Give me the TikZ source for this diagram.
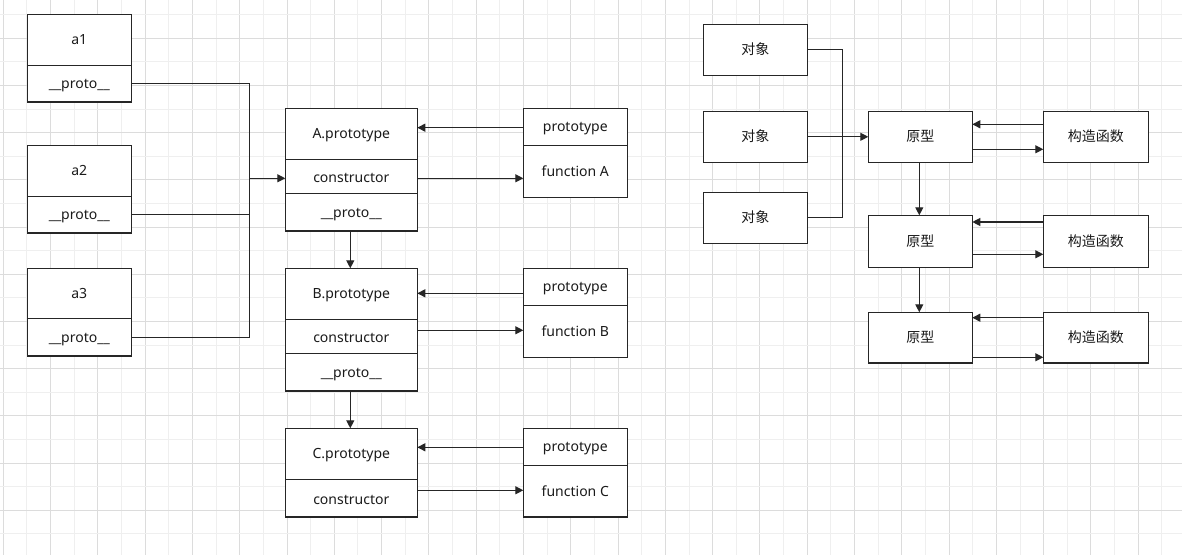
\documentclass[tikz,border=0pt]{standalone}
\usepackage{fontspec}
\setmainfont{Noto Sans}
\newfontfamily\cjk{Noto Sans CJK SC}
\usetikzlibrary{arrows.meta}
\definecolor{gridmajor}{HTML}{DCDCDC}
\definecolor{gridminor}{HTML}{EFEFEF}
\definecolor{linec}{HTML}{262626}
\definecolor{textc}{HTML}{1A1A1A}
\tikzset{
  cell/.style={draw=linec, fill=white, line width=0.9pt, inner sep=0pt, outer sep=0pt,
    font=\fontsize{10.5pt}{12pt}\selectfont, text=textc, text height=0.75em, text depth=0pt},
  ctor/.style={text height=0.95em},
  conn/.style={draw=linec, line width=0.9pt},
  arr/.style={conn, -{Triangle[length=6pt,width=6pt]}},
}
\newcommand\mkcell[7][]{\node[cell, #1, minimum width={(#5-#3)*0.75pt}, minimum height={(#6-#4)*0.75pt}] (#2) at ({(#3+#5)/2},{(#4+#6)/2}) {#7};}
\begin{document}
\begin{tikzpicture}[x=0.75pt,y=-0.75pt]
\useasboundingbox (0,0) rectangle (1182,555);
\fill[white] (0,0) rectangle (1182,555);
% grid
\foreach \k in {0,...,50}{
  \pgfmathsetmacro\gx{3.3+23.645*\k}
  \ifodd\k
    \draw[gridminor, line width=0.75pt] (\gx,0) -- (\gx,555);
  \else
    \draw[gridmajor, line width=0.75pt] (\gx,0) -- (\gx,555);
  \fi
}
\foreach \k in {0,...,23}{
  \pgfmathsetmacro\gy{14.7+23.6*\k}
  \ifodd\k
    \draw[gridmajor, line width=0.75pt] (0,\gy) -- (1182,\gy);
  \else
    \draw[gridminor, line width=0.75pt] (0,\gy) -- (1182,\gy);
  \fi
}
% left objects
\mkcell{a1t}{27.3}{14.3}{131.3}{65.3}{a1}
\mkcell{a1p}{27.3}{65.3}{131.3}{102}{\_\_proto\_\_}
\mkcell{a2t}{27.3}{145.3}{131.3}{196.3}{a2}
\mkcell{a2p}{27.3}{196.3}{131.3}{233}{\_\_proto\_\_}
\mkcell{a3t}{27.3}{268.3}{131.3}{318.3}{a3}
\mkcell{a3p}{27.3}{318.3}{131.3}{356}{\_\_proto\_\_}
% prototypes
\mkcell{Ap}{285.3}{108.3}{417.3}{159.3}{A.prototype}
\mkcell[ctor]{Ac}{285.3}{159.3}{417.3}{193.3}{constructor}
\mkcell{Apr}{285.3}{193.3}{417.3}{231}{\_\_proto\_\_}
\mkcell{Bp}{285.3}{268.3}{417.3}{319.3}{B.prototype}
\mkcell[ctor]{Bc}{285.3}{319.3}{417.3}{353.3}{constructor}
\mkcell{Bpr}{285.3}{353.3}{417.3}{391}{\_\_proto\_\_}
\mkcell{Cp}{285.3}{428.3}{417.3}{479.3}{C.prototype}
\mkcell[ctor]{Cc}{285.3}{479.3}{417.3}{517}{constructor}
% functions
\mkcell{fAp}{523.3}{108.3}{627.3}{145.3}{prototype}
\mkcell{fAf}{523.3}{145.3}{627.3}{197.3}{function A}
\mkcell{fBp}{523.3}{268.3}{627.3}{305.3}{prototype}
\mkcell{fBf}{523.3}{305.3}{627.3}{357.3}{function B}
\mkcell{fCp}{523.3}{428.3}{627.3}{465.3}{prototype}
\mkcell{fCf}{523.3}{465.3}{627.3}{517}{function C}
% right diagram
\mkcell{o1}{703.3}{24.3}{807.3}{75.3}{\cjk 对象}
\mkcell{o2}{703.3}{111.3}{807.3}{162.3}{\cjk 对象}
\mkcell{o3}{703.3}{192.3}{807.3}{243.3}{\cjk 对象}
\mkcell{p1}{868.3}{111.3}{972.3}{162.3}{\cjk 原型}
\mkcell{p2}{868.3}{215.3}{972.3}{267.3}{\cjk 原型}
\mkcell{p3}{868.3}{312.3}{972.3}{363}{\cjk 原型}
\mkcell{k1}{1043.3}{111.3}{1148.3}{162.3}{\cjk 构造函数}
\mkcell{k2}{1043.3}{215.3}{1148.3}{267.3}{\cjk 构造函数}
\mkcell{k3}{1043.3}{312.3}{1148.3}{363}{\cjk 构造函数}
% helper levels
\coordinate (ja) at (249.3,178.3);
\coordinate (yA1) at (0,127.7);
\coordinate (yA2) at (0,178.3);
\coordinate (yB1) at (0,293.3);
\coordinate (yB2) at (0,330.3);
\coordinate (yC1) at (0,447.3);
\coordinate (yC2) at (0,490.3);
\coordinate (jo) at (842.3,136.8);
\coordinate (yP1a) at (0,124.3);
\coordinate (yP1b) at (0,149.3);
\coordinate (yP2a) at (0,222);
\coordinate (yP2b) at (0,254.3);
\coordinate (yP3a) at (0,317.7);
\coordinate (yP3b) at (0,357.3);
% left connectors
\draw[conn] (a1p.east) -| (ja);
\draw[conn] (a3p.east) -| (ja);
\draw[conn] (a2p.east) -| (ja);
\draw[arr] (ja) -- (ja -| Ac.west);
\draw[arr] (fAp.west |- yA1) -- (Ap.east |- yA1);
\draw[arr] (Ac.east |- yA2) -- (fAf.west |- yA2);
\draw[arr] (fBp.west |- yB1) -- (Bp.east |- yB1);
\draw[arr] (Bc.east |- yB2) -- (fBf.west |- yB2);
\draw[arr] (fCp.west |- yC1) -- (Cp.east |- yC1);
\draw[arr] (Cc.east |- yC2) -- (fCf.west |- yC2);
\draw[arr] ([xshift=-0.75pt]Apr.south) -- ([xshift=-0.75pt]Bp.north);
\draw[arr] ([xshift=-0.75pt]Bpr.south) -- ([xshift=-0.75pt]Cp.north);
% right connectors
\draw[conn] (o1.east) -| (jo);
\draw[conn] (o3.east) -| (jo);
\draw[arr] (o2.east) -- (p1.west);
\draw[arr] (k1.west |- yP1a) -- (p1.east |- yP1a);
\draw[arr] (p1.east |- yP1b) -- (k1.west |- yP1b);
\draw[arr] (k2.west |- yP2a) -- (p2.east |- yP2a);
\draw[arr] (p2.east |- yP2b) -- (k2.west |- yP2b);
\draw[arr] (k3.west |- yP3a) -- (p3.east |- yP3a);
\draw[arr] (p3.east |- yP3b) -- (k3.west |- yP3b);
\draw[arr] ([xshift=-0.75pt]p1.south) -- ([xshift=-0.75pt]p2.north);
\draw[arr] ([xshift=-0.75pt]p2.south) -- ([xshift=-0.75pt]p3.north);
\end{tikzpicture}
\end{document}
